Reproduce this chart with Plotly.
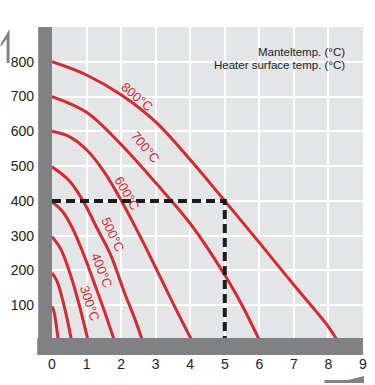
import plotly.graph_objects as go

# ---- data ----
x_ticks = [0, 1, 2, 3, 4, 5, 6, 7, 8, 9]
y_ticks = [100, 200, 300, 400, 500, 600, 700, 800]

series_names = ["800°C", "700°C", "600°C", "500°C", "400°C", "300°C", "200°C", "100°C"]
x_800 = [0, 1, 2, 3, 4, 5, 6, 7, 8, 8.25]
y_800 = [800, 762, 705, 627, 518, 400, 280, 158, 38, 0]
x_700 = [0, 1, 2, 3, 4, 5, 5.5, 6.0]
y_700 = [700, 655, 562, 452, 335, 187, 100, 0]
x_600 = [0, 0.5, 1, 1.5, 2, 2.5, 3, 3.5, 4.04]
y_600 = [600, 585, 547, 485, 402, 308, 208, 106, 0]
x_500 = [0, 0.5, 0.9, 1.3, 1.7, 2.1, 2.4, 2.61]
y_500 = [498, 458, 400, 322, 244, 135, 60, 0]
x_400 = [0, 0.3, 0.6, 0.9, 1.2, 1.5, 1.8]
y_400 = [397, 370, 320, 250, 170, 88, 0]
x_300 = [0, 0.25, 0.5, 0.75, 1.04]
y_300 = [297, 262, 198, 115, 0]
x_200 = [0, 0.15, 0.3, 0.45, 0.56]
y_200 = [193, 168, 118, 55, 0]
x_100 = [0, 0.06, 0.12, 0.18]
y_100 = [97, 80, 45, 0]

guide_x = [0, 5, 5]
guide_y = [400, 400, 0]

label_text = ["800°C", "700°C", "600°C", "500°C", "400°C", "300°C"]
label_x = [2.45, 2.68, 2.18, 1.75, 1.45, 1.1]
label_y = [700, 555, 422, 302, 201, 106]
label_angle = [40, 50, 60, 65, 68, 72]

legend_lines = ["Manteltemp. (°C)", "Heater surface temp. (°C)"]

# ---- styling ----
RED = "#d52a30"
GRAY = "#808183"
FONT = "Liberation Sans, Arial, sans-serif"

W, H = 375, 385
ML, MR, MT, MB = 52, 8, 27, 45
PW, PH = W - ML - MR, H - MT - MB


def px(x):
    return (x - ML) / PW


def py(y):
    return (H - MB - y) / PH


fig = go.Figure()
series_x = [x_800, x_700, x_600, x_500, x_400, x_300, x_200, x_100]
series_y = [y_800, y_700, y_600, y_500, y_400, y_300, y_200, y_100]
for name, xs, ys in zip(series_names, series_x, series_y):
    fig.add_trace(go.Scatter(x=xs, y=ys, mode="lines", name=name,
                             line=dict(color=RED, width=3, shape="spline", smoothing=1.0),
                             hoverinfo="skip", showlegend=False))

fig.add_trace(go.Scatter(x=guide_x, y=guide_y, mode="lines",
                         line=dict(color="#1c1c1c", width=4, dash="9px,5px"),
                         hoverinfo="skip", showlegend=False))

annotations = []
for t, x, y, a in zip(label_text, label_x, label_y, label_angle):
    annotations.append(dict(x=x, y=y, xref="x", yref="y", text=t, showarrow=False,
                            textangle=a, font=dict(family=FONT, size=13, color=RED)))
annotations.append(dict(x=px(351), y=py(52), xref="paper", yref="paper", text=legend_lines[0],
                        showarrow=False, xanchor="right", yanchor="middle",
                        font=dict(family=FONT, size=11.5, color="#222")))
annotations.append(dict(x=px(351), y=py(65), xref="paper", yref="paper", text=legend_lines[1],
                        showarrow=False, xanchor="right", yanchor="middle",
                        font=dict(family=FONT, size=11.5, color="#222")))

shapes = [
    # left axis bar
    dict(type="rect", xref="paper", yref="paper", x0=px(38), x1=px(52), y0=py(355), y1=py(27),
         fillcolor=GRAY, line=dict(width=0), layer="above"),
    # bottom axis bar
    dict(type="rect", xref="paper", yref="paper", x0=px(37), x1=px(367), y0=py(355), y1=py(338),
         fillcolor=GRAY, line=dict(width=0), layer="above"),
    # up arrow (top-left)
    dict(type="path", xref="paper", yref="paper", layer="above",
         path=f"M {px(6)} {py(63)} L {px(9)} {py(63)} L {px(9)} {py(29)} L {px(0)} {py(44)} L {px(0)} {py(47)} L {px(6)} {py(39)} Z",
         fillcolor=GRAY, line=dict(width=0)),
    # right arrow (bottom-right)
    dict(type="path", xref="paper", yref="paper", layer="above",
         path=f"M {px(328)} {py(380)} L {px(352)} {py(380)} L {px(368)} {py(376)} L {px(368)} {py(383)} L {px(328)} {py(383)} Z",
         fillcolor=GRAY, line=dict(width=0)),
]

fig.update_layout(
    width=W, height=H,
    margin=dict(l=ML, r=MR, t=MT, b=MB, pad=0),
    paper_bgcolor="white", plot_bgcolor="#e4e5e7",
    showlegend=False,
    annotations=annotations, shapes=shapes,
    font=dict(family=FONT, size=14, color="#222"),
)
fig.update_xaxes(range=[0, 9], tickvals=x_ticks, ticktext=[str(v) for v in x_ticks],
                 showgrid=True, gridcolor="white", gridwidth=2, zeroline=False,
                 showline=False, ticks="", ticklabelstandoff=14,
                 tickfont=dict(family=FONT, size=14, color="#222"), fixedrange=True)
fig.update_yaxes(range=[0, 900], tickvals=y_ticks, ticktext=[str(v) for v in y_ticks],
                 showgrid=True, gridcolor="white", gridwidth=2, zeroline=False,
                 showline=False, ticks="", ticklabelstandoff=17,
                 tickfont=dict(family=FONT, size=14, color="#222"), fixedrange=True)

fig.write_html("out.html", config={"displayModeBar": False},
               post_script="document.body.style.margin='0';document.body.style.padding='0';")
